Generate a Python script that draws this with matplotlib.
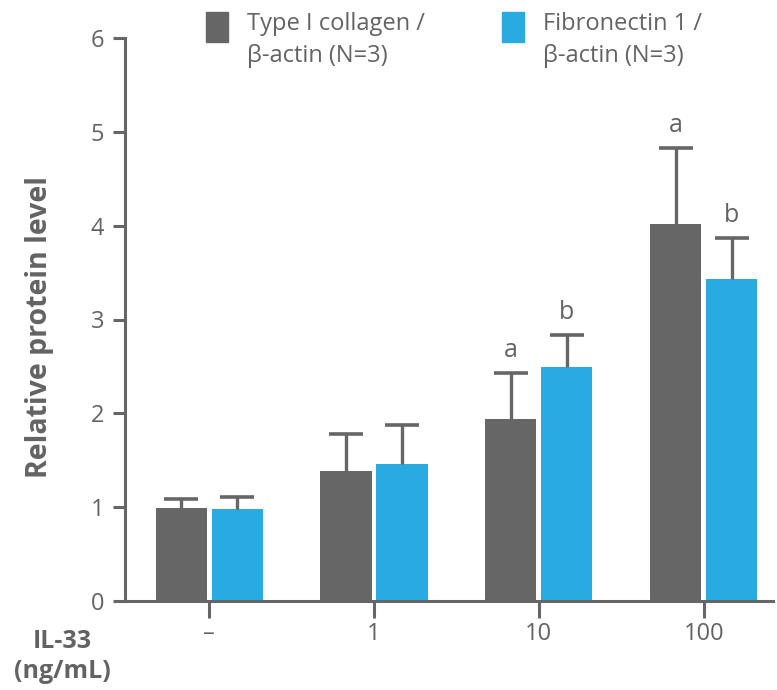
import matplotlib
matplotlib.use("Agg")
import matplotlib.pyplot as plt
import numpy as np
from matplotlib.patches import Rectangle

plt.rcParams["font.family"] = ["Open Sans", "DejaVu Sans"]

doses = ["\u2013", "1", "10", "100"]
collagen = [0.99, 1.39, 1.94, 4.02]
collagen_err = [0.10, 0.39, 0.49, 0.81]
fibronectin = [0.985, 1.465, 2.49, 3.43]
fibronectin_err = [0.125, 0.41, 0.34, 0.44]
collagen_marks = ["", "", "a", "a"]
fibronectin_marks = ["", "", "b", "b"]

GRAY = "#666666"
BLUE = "#29ABE2"
TEXT = "#636363"

fig = plt.figure(figsize=(7.77, 6.90), dpi=100)
ax = fig.add_axes([125 / 777, 89 / 690, 648 / 777, 563 / 690])

x = np.arange(len(doses))
width = 0.31
off = 0.17

err_kw = dict(ecolor=GRAY, elinewidth=2.4, capsize=12, capthick=2.6)
b1 = ax.bar(x - off, collagen, width, color=GRAY, edgecolor="none",
            yerr=[np.zeros(4), collagen_err], error_kw=err_kw)
b2 = ax.bar(x + off, fibronectin, width, color=BLUE, edgecolor="none",
            yerr=[np.zeros(4), fibronectin_err], error_kw=err_kw)

# only the upper cap should show
for b in (b1, b2):
    caps = b.errorbar.lines[1]
    caps[0].set_visible(False)

for xs, vals, errs, marks in [(x - off, collagen, collagen_err, collagen_marks),
                              (x + off, fibronectin, fibronectin_err, fibronectin_marks)]:
    for xi, v, e, m in zip(xs, vals, errs, marks):
        if m:
            ax.annotate(m, (xi, v + e), xytext=(0, 11.5), textcoords="offset points",
                        ha="center", va="baseline", fontsize=18, color=TEXT)

ax.set_xlim(-0.51, 3.42)
ax.set_ylim(0, 6)
ax.set_yticks(range(7))
ax.set_xticks(x)
ax.set_xticklabels(doses)

for s in ["top", "right"]:
    ax.spines[s].set_visible(False)
for s in ["left", "bottom"]:
    ax.spines[s].set_color(GRAY)
    ax.spines[s].set_linewidth(2.2)

ax.tick_params(axis="y", length=9, width=2.2, color=GRAY, labelcolor=TEXT,
               labelsize=17, pad=6)
ax.tick_params(axis="x", length=12, width=2.2, color=GRAY, labelcolor=TEXT,
               labelsize=17, pad=3)

ax.set_ylabel("Relative protein level", fontsize=20.5, fontweight="bold",
              color=TEXT)
ax.yaxis.set_label_coords(-0.11, 0.487)

fig.text(62 / 777, 1 - 642 / 690, "IL-33", ha="center", va="center",
         fontsize=18, fontweight="bold", color=TEXT)
fig.text(62 / 777, 1 - 671 / 690, "(ng/mL)", ha="center", va="center",
         fontsize=18, fontweight="bold", color=TEXT)

# legend drawn by hand
legend = [(206, GRAY, "Type I collagen /\n\u03b2-actin (N=3)"),
          (502, BLUE, "Fibronectin 1 /\n\u03b2-actin (N=3)")]
for px, c, lab in legend:
    fig.add_artist(Rectangle((px / 777, 1 - 42 / 690), 22 / 777, 30 / 690,
                             transform=fig.transFigure, color=c))
    fig.text((px + 41) / 777, 1 - 12 / 690, lab, ha="left", va="top",
             fontsize=17, color=TEXT, linespacing=1.42)

fig.savefig("out.png", dpi=100)
